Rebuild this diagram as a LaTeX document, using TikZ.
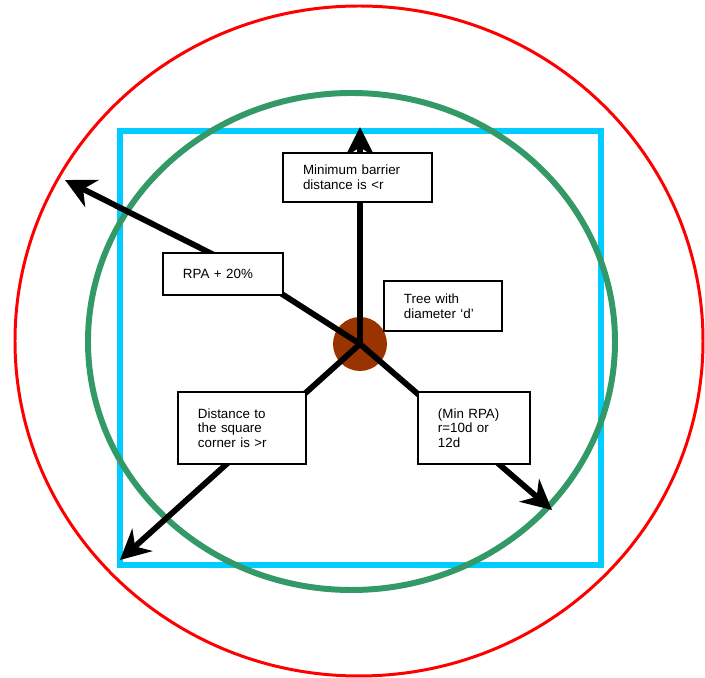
\documentclass[tikz,border=0pt]{standalone}
\usepackage{fontspec}
\setmainfont{Liberation Sans}
\usepackage{tikz}
\usetikzlibrary{arrows.meta, positioning, shapes}
\usepackage{xcolor}
\definecolor{outerred}{RGB}{255,0,0}
\definecolor{squarecyan}{RGB}{0,204,255}
\definecolor{rpagreen}{RGB}{51,153,102}
\definecolor{treebrown}{RGB}{153,51,0}

\begin{document}
\begin{tikzpicture}[
	labelbox/.style={draw, line width=1.1pt, fill=white, align=left, inner xsep=0.4cm, inner ysep=0pt, font=\fontsize{7.6}{8.4}\selectfont},
	radiusline/.style={line width=3.3pt, -{Stealth[length=0.6cm, width=0.6cm]}}
	]
	
	\useasboundingbox (0, 0) rectangle (14.1, 13.56);
	
	% 外圈
	\draw[outerred, line width=1.7pt] (7.18, 6.74) ellipse (6.88 and 6.70);
	
	% 方形屏障
	\draw[squarecyan, line width=3.4pt] (2.4, 2.26) rectangle (12.02, 10.94);
	
	% RPA 圈
	\draw[rpagreen, line width=3.4pt] (7.03, 6.73) ellipse (5.27 and 4.97);
	
	% 树
	\node[circle, fill=treebrown, minimum size=1.08cm, inner sep=0pt] (tree) at (7.2, 6.68) {};
	
	% 箭头终点
	\coordinate (topend) at (7.2, 11.02);
	\coordinate (leftbend) at (4.92, 8.14);
	\coordinate (leftend) at (1.3, 9.96);
	\coordinate (cornerend) at (2.4, 2.36);
	\coordinate (rightend) at (11.04, 3.36);
	
	% 半径
	\draw[radiusline] (tree.center) -- (topend);
	\draw[radiusline] (tree.center) -- (leftbend) -- (leftend);
	\draw[radiusline] (tree.center) -- (cornerend);
	\draw[radiusline] (tree.center) -- (rightend);
	
	% 标签
	\node[labelbox, text width=2.18cm, minimum height=0.98cm] (barrier) at (7.15, 10.01) {Minimum barrier\\distance is <r};
	\node[labelbox, text width=1.6cm, minimum height=0.84cm] (rpa) at (4.46, 8.08) {RPA + 20\%};
	\node[labelbox, text width=1.56cm, minimum height=1.0cm] (treebox) at (8.86, 7.44) {Tree with\\diameter ‘d’};
	\node[labelbox, text width=1.76cm, minimum height=1.44cm] (corner) at (4.84, 5.0) {Distance to\\the square\\corner is >r};
	\node[labelbox, text width=1.44cm, minimum height=1.44cm] (minrpa) at (9.48, 5.0) {(Min RPA)\\r=10d or\\12d};
	
\end{tikzpicture}
\end{document}
